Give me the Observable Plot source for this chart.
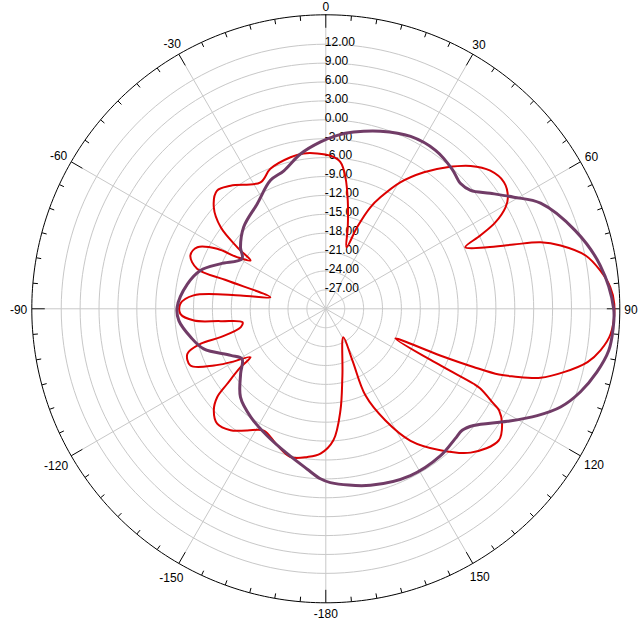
<!DOCTYPE html>
<html><head><meta charset="utf-8">
<script src="https://cdn.jsdelivr.net/npm/d3@7"></script>
<script src="https://cdn.jsdelivr.net/npm/@observablehq/plot@0.6"></script>
<style>html,body{margin:0;padding:0;background:#fff}#chart svg{display:block}</style>
</head><body><div id="chart"></div>
<script>
// ---- data (azimuth in degrees, clockwise from top; gain in dB) ----
const purpleAngle = [-178.2,-173.3,-165.1,-155.2,-145.2,-136.0,-127.3,-120.9,-116.1,-108.2,-101.9,-94.6,-89.4,-79.8,-73.0,-66.9,-59.1,-54.2,-45.1,-33.2,-23.3,-16.9,-9.3,-1.8,3.8,9.0,17.1,26.2,34.7,42.1,47.1,50.7,54.9,59.3,63.8,72.6,81.0,90.0,94.3,98.4,103.1,108.1,112.7,116.8,121.8,128.3,131.7,135.1,142.0,153.1,165.8,178.5];
const purpleDb = [-3.0,-4.4,-6.2,-7.8,-9.1,-10.5,-13.0,-14.5,-13.2,-9.6,-8.1,-6.6,-6.4,-7.7,-9.2,-11.8,-14.5,-13.3,-11.6,-10.1,-7.8,-7.1,-5.1,-3.5,-2.4,-1.6,-0.5,0.5,0.6,-0.1,-0.8,-0.3,1.9,4.7,8.0,11.5,14.1,15.7,15.7,15.4,14.2,12.5,10.4,7.6,3.9,-0.1,-1.0,-0.9,-0.4,-0.3,-1.1,-2.4];

const redAngle = [18.6,15.1,11.5,8.5,5.7,1.8,-3.2,-8.1,-13.1,-21.6,-27.3,-37.7,-42.6,-47.8,-52.2,-55.2,-57.3,-59.8,-61.1,-64.4,-68.5,-72.7,-74.0,-78.2,-81.1,-84.2,-88.0,-92.0,-95.1,-96.7,-99.1,-102.2,-105.1,-105.6,-108.0,-112.7,-116.9,-119.3,-122.7,-124.4,-127.3,-129.1,-132.2,-136.6,-141.9,-147.1,-153.0,-160.0,-166.6,-172.9,-177.9,176.7,171.8,166.0,148.3,152.7,155.4,151.9,147.3,141.0,134.8,127.3,123.1,120.4,119.5,117.3,116.9,116.3,113.1,112.2,111.5,110.8,109.8,107.8,104.9,101.5,98.6,95.0,89.0,85.7,82.1,78.4,74.9,72.8,71.1,69.1,66.2,64.6,63.0,60.5,58.5,54.6,50.0,45.4,40.6,35.7,30.5,26.1,23.7,21.0];
const redDb = [-19.7,-16.6,-12.5,-8.9,-6.6,-5.7,-5.3,-5.1,-5.3,-6.1,-7.4,-5.3,-4.5,-6.0,-8.9,-12.9,-15.8,-13.7,-10.3,-7.4,-6.9,-8.6,-13.7,-21.0,-16.3,-8.9,-6.9,-6.9,-9.0,-13.2,-16.6,-16.2,-12.7,-9.4,-6.9,-6.7,-10.1,-12.7,-15.8,-13.6,-10.3,-7.8,-6.0,-4.9,-5.5,-7.0,-8.3,-7.1,-5.8,-6.3,-7.0,-9.1,-13.7,-19.1,-24.7,-20.8,-14.9,-9.9,-5.1,-1.1,2.4,4.5,3.4,1.9,0.6,-2.4,-3.7,-9.7,-18.0,-10.4,-4.8,-0.6,1.7,5.8,9.1,12.4,14.1,15.4,15.8,15.3,14.0,12.1,8.6,5.7,1.5,-2.6,-5.8,-2.8,0.2,2.8,3.9,4.7,4.1,2.3,-0.4,-3.3,-6.7,-10.3,-12.4,-16.1];

const ringLevels = [-27,-24,-21,-18,-15,-12,-9,-6,-3,0,3,6,9,12];
const angleTicks = [0,30,60,90,120,150,180,-150,-120,-90,-60,-30];
const angleLabels = ["0","30","60","90","120","150","-180","-150","-120","-90","-60","-30"];
const dbMin = -30;      // value at the centre
const dbOuter = 16.67;  // value at the outer circle

// ---- layout ----
const W = 638, H = 622, cx = 325.3, cy = 308.3, Rpx = 294;
const span = dbOuter - dbMin;
const k = Rpx / span;
const rad = a => a * Math.PI / 180;
const px = (a, rv) => rv * Math.sin(rad(a));
const py = (a, rv) => rv * Math.cos(rad(a));

const rings = ringLevels.flatMap(l => d3.range(0, 361, 2).map(a => ({l, a, rv: l - dbMin})));
const outer = d3.range(0, 361, 1).map(a => ({a, rv: span}));
const spokes = d3.range(0, 360, 30);
const ticks = d3.range(0, 360, 5).map(a => ({a, len: a % 30 === 0 ? 13 : 5}));
const purple = purpleAngle.map((a, i) => ({a, rv: purpleDb[i] - dbMin}));
const red = redAngle.map((a, i) => ({a, rv: redDb[i] - dbMin}));
// label distance: outer radius + gap + half of the text box extent toward the centre
const labelR = (a, t) => {
  const w = t.length * 6.7 - (t.startsWith("-") ? 2.7 : 0);
  const ext = Math.abs(Math.sin(rad(a))) * w / 2 + Math.abs(Math.cos(rad(a))) * 5;
  return span + (4.5 + ext) / k;
};
const labels = angleTicks.map((a, i) => ({a, t: angleLabels[i], rv: labelR(a, angleLabels[i])}));

const chart = Plot.plot({
  width: W, height: H,
  marginLeft: cx - Rpx, marginRight: W - cx - Rpx,
  marginTop: cy - Rpx, marginBottom: H - cy - Rpx,
  x: {domain: [-span, span], axis: null},
  y: {domain: [-span, span], axis: null},
  style: {fontFamily: "'Liberation Sans', Arial, sans-serif", fontSize: "12px", background: "#fff", color: "#000", overflow: "visible"},
  marks: [
    Plot.line(rings, {x: d => px(d.a, d.rv), y: d => py(d.a, d.rv), z: "l", stroke: "#c8c8c8", strokeWidth: 1}),
    Plot.link(spokes, {x1: () => 0, y1: () => 0, x2: d => px(d, span - 13 / k), y2: d => py(d, span - 13 / k), stroke: "#c8c8c8", strokeWidth: 1}),
    Plot.line(outer, {x: d => px(d.a, d.rv), y: d => py(d.a, d.rv), stroke: "#000", strokeWidth: 1}),
    Plot.link(ticks, {x1: d => px(d.a, span), y1: d => py(d.a, span), x2: d => px(d.a, span - d.len / k), y2: d => py(d.a, span - d.len / k), stroke: "#000", strokeWidth: 1}),
    Plot.text(ringLevels, {x: () => 0, y: d => d - dbMin, text: d => d.toFixed(2), textAnchor: "start", dx: -1, dy: -2, fill: "#000", fontSize: 12}),
    Plot.text(labels, {x: d => px(d.a, d.rv), y: d => py(d.a, d.rv), text: "t", textAnchor: "middle", dy: 1.5, fill: "#000", fontSize: 12}),
    Plot.line(red, {x: d => px(d.a, d.rv), y: d => py(d.a, d.rv), stroke: "#dc0000", strokeWidth: 2, curve: "catmull-rom-closed"}),
    Plot.line(purple, {x: d => px(d.a, d.rv), y: d => py(d.a, d.rv), stroke: "#713c67", strokeWidth: 3, curve: "catmull-rom-closed"})
  ]
});
document.getElementById("chart").appendChild(chart);
</script>
</body></html>
